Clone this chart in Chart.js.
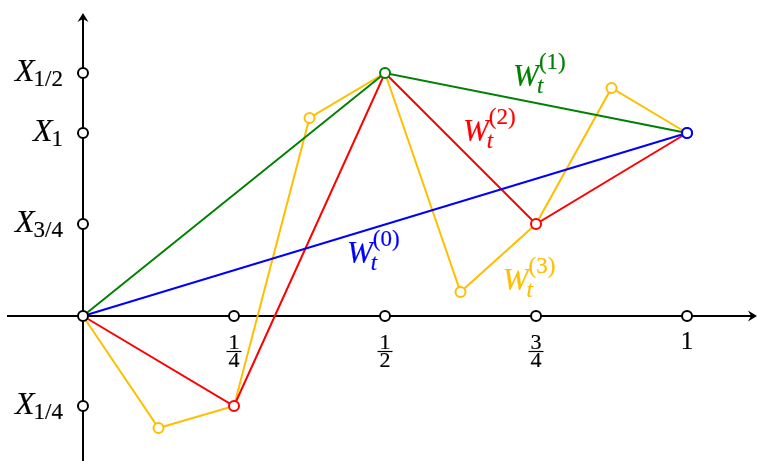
<!DOCTYPE html>
<html>
<head>
<meta charset="utf-8">
<script src="https://cdn.jsdelivr.net/npm/chart.js@4"></script>
<style>
html,body{margin:0;padding:0;background:#fff;}
#wrap{width:758px;height:461px;}
</style>
</head>
<body>
<div id="wrap"><canvas id="c" width="758" height="461"></canvas></div>
<script>
// ---- data ----
const times0 = [0, 1];
const values0 = [0, 1.83];
const times1 = [0, 0.5, 1];
const values1 = [0, 2.43, 1.83];
const times2 = [0, 0.25, 0.5, 0.75, 1];
const values2 = [0, -0.90, 2.43, 0.92, 1.83];
const times3 = [0, 0.125, 0.25, 0.375, 0.5, 0.625, 0.75, 0.875, 1];
const values3 = [0, -1.12, -0.90, 1.98, 2.43, 0.24, 0.92, 2.28, 1.83];
const xTickValues = [0.25, 0.5, 0.75, 1];
const xTickLabels = ['1/4', '1/2', '3/4', '1'];
const yTickValues = [2.43, 1.83, 0.92, -0.90];
const yTickLabels = ['1/2', '1', '3/4', '1/4'];
const seriesNames = ['(0)', '(1)', '(2)', '(3)'];

const colors = ['#0000ff', '#008000', '#ff0000', '#ffbf00'];
// label anchors (data coords: left of W, baseline)
const labelAnchors = [[0.437, 0.53], [0.712, 2.30], [0.629, 1.75], [0.695, 0.26]];

function pts(t, v) { return t.map((x, i) => ({x: x, y: v[i]})); }
const series = [[times0, values0], [times1, values1], [times2, values2], [times3, values3]];

const SERIF = "'Liberation Serif', 'DejaVu Serif', serif";
const R = 5;

function arrowHead(ctx, x, y, ang) {
  ctx.save();
  ctx.translate(x, y);
  ctx.rotate(ang);
  ctx.beginPath();
  ctx.moveTo(0, 0);
  ctx.lineTo(-9, -5.5);
  ctx.lineTo(-6, 0);
  ctx.lineTo(-9, 5.5);
  ctx.closePath();
  ctx.fillStyle = '#000';
  ctx.fill();
  ctx.restore();
}

function openCircle(ctx, x, y, col) {
  ctx.beginPath();
  ctx.arc(x, y, R, 0, Math.PI * 2);
  ctx.fillStyle = '#fff';
  ctx.fill();
  ctx.lineWidth = 2;
  ctx.strokeStyle = col;
  ctx.stroke();
}

function txt(ctx, s, x, y, col) {
  ctx.fillStyle = col;
  ctx.strokeStyle = col;
  ctx.lineWidth = 0.2;
  ctx.fillText(s, x, y);
  ctx.strokeText(s, x, y);
}

const axesPlugin = {
  id: 'axesPlugin',
  beforeDatasetsDraw(chart) {
    const ctx = chart.ctx, xs = chart.scales.x, ys = chart.scales.y, ca = chart.chartArea;
    const x0 = xs.getPixelForValue(0), y0 = ys.getPixelForValue(0);
    ctx.save();
    ctx.strokeStyle = '#000';
    ctx.lineWidth = 2;
    ctx.beginPath();
    ctx.moveTo(ca.left + 7, y0);
    ctx.lineTo(ca.right - 4, y0);
    ctx.moveTo(x0, ca.bottom);
    ctx.lineTo(x0, ca.top + 16);
    ctx.stroke();
    arrowHead(ctx, ca.right - 1, y0, 0);
    arrowHead(ctx, x0, ca.top + 13, -Math.PI / 2);

    // x tick labels
    ctx.textAlign = 'center';
    ctx.textBaseline = 'alphabetic';
    xTickLabels.forEach((lab, i) => {
      const px = xs.getPixelForValue(xTickValues[i]);
      if (lab.indexOf('/') >= 0) {
        const [n, d] = lab.split('/');
        ctx.font = '22px ' + SERIF;
        txt(ctx, n, px, y0 + 33, '#000');
        txt(ctx, d, px, y0 + 51, '#000');
        ctx.beginPath();
        ctx.lineWidth = 1.2;
        ctx.strokeStyle = '#000';
        ctx.moveTo(px - 7.5, y0 + 35.5);
        ctx.lineTo(px + 7.5, y0 + 35.5);
        ctx.stroke();
      } else {
        ctx.font = '25px ' + SERIF;
        txt(ctx, lab, px, y0 + 33, '#000');
      }
    });

    // y tick labels
    ctx.textAlign = 'left';
    yTickLabels.forEach((lab, i) => {
      const py = ys.getPixelForValue(yTickValues[i]);
      ctx.font = 'italic 32px ' + SERIF;
      const wX = ctx.measureText('X').width;
      ctx.font = '23px ' + SERIF;
      const wS = ctx.measureText(lab).width;
      const right = x0 - 20;
      const left = right - wS - wX + 1;
      ctx.font = 'italic 32px ' + SERIF;
      txt(ctx, 'X', left, py + 8, '#000');
      ctx.font = '23px ' + SERIF;
      txt(ctx, lab, left + wX - 1, py + 13, '#000');
    });
    ctx.restore();
  },
  afterDatasetsDraw(chart) {
    const ctx = chart.ctx, xs = chart.scales.x, ys = chart.scales.y;
    const x0 = xs.getPixelForValue(0), y0 = ys.getPixelForValue(0);
    ctx.save();
    xTickValues.forEach(v => openCircle(ctx, xs.getPixelForValue(v), y0, '#000'));
    yTickValues.forEach(v => openCircle(ctx, x0, ys.getPixelForValue(v), '#000'));
    openCircle(ctx, x0, y0, '#000');
    // final blue point on top of the t=1 axis circle
    openCircle(ctx, xs.getPixelForValue(times0[1]), ys.getPixelForValue(values0[1]), colors[0]);

    // series labels W_t^(k)
    ctx.textAlign = 'left';
    ctx.textBaseline = 'alphabetic';
    seriesNames.forEach((nm, k) => {
      const px = xs.getPixelForValue(labelAnchors[k][0]);
      const py = ys.getPixelForValue(labelAnchors[k][1]);
      ctx.font = 'italic 31px ' + SERIF;
      const wW = ctx.measureText('W').width;
      txt(ctx, 'W', px, py, colors[k]);
      ctx.font = 'italic 23px ' + SERIF;
      txt(ctx, 't', px + wW - 2, py + 7, colors[k]);
      ctx.font = '23px ' + SERIF;
      txt(ctx, nm, px + wW, py - 17, colors[k]);
    });
    ctx.restore();
  }
};

const datasets = series.map((s, k) => ({
  label: 'W' + seriesNames[k],
  data: pts(s[0], s[1]),
  showLine: true,
  borderColor: colors[k],
  borderWidth: 2,
  backgroundColor: '#fff',
  pointBackgroundColor: '#fff',
  pointBorderColor: colors[k],
  pointBorderWidth: 2,
  pointRadius: c => (c.dataIndex % 2 === 1 ? R : 0),
  pointHoverRadius: c => (c.dataIndex % 2 === 1 ? R : 0),
  tension: 0,
  clip: false
}));

new Chart(document.getElementById('c'), {
  type: 'scatter',
  data: { datasets: datasets },
  options: {
    responsive: false,
    devicePixelRatio: 1,
    animation: false,
    events: [],
    layout: { padding: 0, autoPadding: false },
    plugins: { legend: { display: false }, tooltip: { enabled: false } },
    scales: {
      x: { type: 'linear', min: -0.1374, max: 1.1175, display: false },
      y: { type: 'linear', min: -1.45, max: 3.16, display: false }
    }
  },
  plugins: [axesPlugin]
});
</script>
</body>
</html>
